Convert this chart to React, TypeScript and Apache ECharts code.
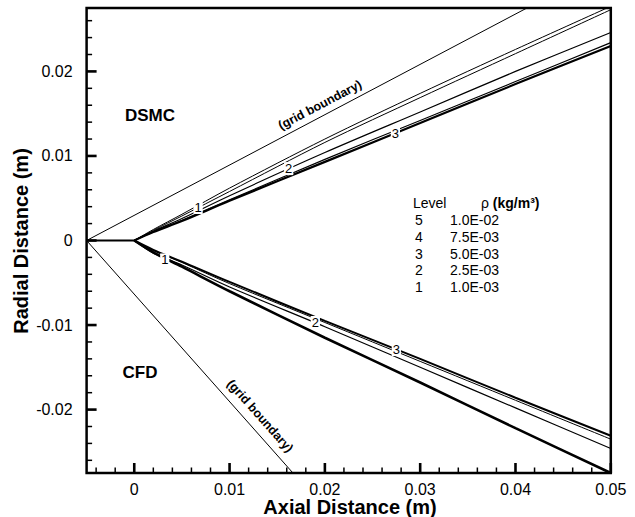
import React, { useEffect, useRef } from "react";
import * as echarts from "echarts";

// ---- data ----
const xStations = [0, 0.002, 0.005, 0.01, 0.02, 0.03, 0.04, 0.05];

// upper (DSMC) shock contours
const upperA = [0, 0.0013, 0.0031, 0.0062, 0.012, 0.0174, 0.0226, 0.0277];
const upperB = [0, 0.0012, 0.0029, 0.0058, 0.0116, 0.0169, 0.0221, 0.0273];
const upperC = [0, 0.0011, 0.0026, 0.0053, 0.0104, 0.0152, 0.02, 0.0246];
const upperD = [0, 0.001, 0.0024, 0.0048, 0.0096, 0.0142, 0.0188, 0.0234];
const upperE = [0, 0.001, 0.0023, 0.0047, 0.0093, 0.0139, 0.0185, 0.023];

// lower (CFD) shock contours
const lowerT1 = [0, -0.0011, -0.0025, -0.0049, -0.0095, -0.014, -0.0186, -0.0231];
const lowerT2 = [0, -0.0012, -0.0026, -0.0051, -0.0097, -0.0143, -0.0189, -0.0235];
const lowerM = [0, -0.0015, -0.0029, -0.0055, -0.0102, -0.015, -0.0198, -0.0246];
const lowerB = [0, -0.0014, -0.0031, -0.006, -0.0115, -0.0168, -0.0222, -0.0275];

// grid boundaries
const gridBoundaryUpper = [[-0.005, 0], [0.0412, 0.0275]];
const gridBoundaryLower = [[-0.005, 0], [0.01665, -0.0275]];
const stingLine = [[-0.005, 0], [0, 0]];

// contour labels [x, y, level]
const contourLabels: [number, number, string][] = [
  [0.0067, 0.0039, "1"],
  [0.0162, 0.0085, "2"],
  [0.0274, 0.0127, "3"],
  [0.0032, -0.0023, "1"],
  [0.019, -0.0097, "2"],
  [0.0275, -0.0129, "3"],
];

// legend
const legendLevels = ["5", "4", "3", "2", "1"];
const legendDensity = ["1.0E-02", "7.5E-03", "5.0E-03", "2.5E-03", "1.0E-03"];

// axes
const xMin = -0.005;
const xMax = 0.05;
const yMin = -0.0275;
const yMax = 0.0275;
const xMajorTicks = [0, 0.01, 0.02, 0.03, 0.04, 0.05];
const yMajorTicks = [-0.02, -0.01, 0, 0.01, 0.02];

function minorTicks(lo: number, hi: number, step: number, majors: number[]) {
  const out: number[] = [];
  const start = Math.ceil(lo / step - 1e-9);
  const end = Math.floor(hi / step + 1e-9);
  for (let i = start; i <= end; i++) {
    const v = +(i * step).toFixed(4);
    if (!majors.some((m) => Math.abs(m - v) < 1e-9)) out.push(v);
  }
  return out;
}
const xMinorTicks = minorTicks(xMin, xMax, 0.002, xMajorTicks);
const yMinorTicks = minorTicks(yMin, yMax, 0.002, yMajorTicks);

const FONT = "'Liberation Sans', Arial, Helvetica, sans-serif";

function pairs(ys: number[]) {
  return xStations.map((x, i) => [x, ys[i]]);
}

function lineSeries(data: number[][], width: number, smooth = 0.3) {
  return {
    type: "line",
    data,
    symbol: "none",
    smooth,
    silent: true,
    lineStyle: { color: "#000", width },
    xAxisIndex: 0,
    yAxisIndex: 0,
    z: 3,
  };
}

function axis(min: number, max: number, position: string, ticks: number[], margin: number) {
  return {
    type: "value",
    min,
    max,
    position,
    axisLine: { show: false, onZero: false },
    splitLine: { show: false },
    axisTick: { show: false },
    axisLabel: {
      customValues: ticks,
      formatter: (v: number) => String(+(+v).toFixed(3)),
      color: "#000",
      fontSize: 16,
      fontFamily: FONT,
      margin,
    },
  };
}

const textGraphics: any[] = [
  {
    type: "text",
    x: 150,
    y: 115,
    style: { text: "DSMC", fontSize: 17, fontWeight: "bold", fontFamily: FONT, fill: "#000", textAlign: "center", textVerticalAlign: "middle" },
  },
  {
    type: "text",
    x: 140,
    y: 372,
    style: { text: "CFD", fontSize: 17, fontWeight: "bold", fontFamily: FONT, fill: "#000", textAlign: "center", textVerticalAlign: "middle" },
  },
  {
    type: "text",
    x: 320,
    y: 105,
    rotation: 0.485,
    style: { text: "(grid boundary)", fontSize: 12.5, fontWeight: "bold", fontFamily: FONT, fill: "#000", textAlign: "center", textVerticalAlign: "middle" },
  },
  {
    type: "text",
    x: 260,
    y: 416,
    rotation: -0.845,
    style: { text: "(grid boundary)", fontSize: 12.5, fontWeight: "bold", fontFamily: FONT, fill: "#000", textAlign: "center", textVerticalAlign: "middle" },
  },
  {
    type: "text",
    x: 350,
    y: 507,
    style: { text: "Axial Distance (m)", fontSize: 20, fontWeight: "bold", fontFamily: FONT, fill: "#000", textAlign: "center", textVerticalAlign: "middle" },
  },
  {
    type: "text",
    x: 21,
    y: 241,
    rotation: Math.PI / 2,
    style: { text: "Radial Distance (m)", fontSize: 20, fontWeight: "bold", fontFamily: FONT, fill: "#000", textAlign: "center", textVerticalAlign: "middle" },
  },
  {
    type: "text",
    x: 413,
    y: 203,
    style: { text: "Level", fontSize: 14, fontFamily: FONT, fill: "#000", textAlign: "left", textVerticalAlign: "middle" },
  },
  {
    type: "text",
    x: 481,
    y: 203,
    style: {
      text: "{a|ρ }{b|(kg/m³)}",
      fontFamily: FONT,
      fill: "#000",
      textAlign: "left",
      textVerticalAlign: "middle",
      rich: {
        a: { fontSize: 14, fontFamily: FONT, fill: "#000" },
        b: { fontSize: 14, fontWeight: "bold", fontFamily: FONT, fill: "#000" },
      },
    },
  },
  ...legendLevels.map((lv, i) => ({
    type: "text",
    x: 415,
    y: 220 + i * 16.8,
    style: { text: lv, fontSize: 14, fontFamily: FONT, fill: "#000", textAlign: "left", textVerticalAlign: "middle" },
  })),
  ...legendDensity.map((d, i) => ({
    type: "text",
    x: 450,
    y: 220 + i * 16.8,
    style: { text: d, fontSize: 14, fontFamily: FONT, fill: "#000", textAlign: "left", textVerticalAlign: "middle" },
  })),
];

export default function App() {
  const ref = useRef<HTMLDivElement>(null);
  useEffect(() => {
    if (!ref.current) return;
    const chart = echarts.init(ref.current, undefined, { renderer: "svg" });
    const option: any = {
      animation: false,
      backgroundColor: "#fff",
      grid: {
        left: 86.6,
        right: 24.2,
        top: 8,
        bottom: 44,
        show: false,
      },
      xAxis: axis(xMin, xMax, "bottom", xMajorTicks, 8),
      yAxis: axis(yMin, yMax, "left", yMajorTicks, 14),
      series: [
        lineSeries(gridBoundaryUpper, 1, 0),
        lineSeries(gridBoundaryLower, 1, 0),
        lineSeries(stingLine, 2, 0),
        lineSeries(pairs(upperA), 1),
        lineSeries(pairs(upperB), 1),
        lineSeries(pairs(upperC), 1.2),
        lineSeries(pairs(upperD), 1.2),
        lineSeries(pairs(upperE), 2.2),
        lineSeries(pairs(lowerT1), 2),
        lineSeries(pairs(lowerT2), 1),
        lineSeries(pairs(lowerM), 1.2),
        lineSeries(pairs(lowerB), 2.6),
        {
          type: "custom",
          silent: true,
          z: 7,
          data: contourLabels.map((d) => [d[0], d[1], d[2]]),
          renderItem: (_p: any, api: any) => {
            const p = api.coord([api.value(0), api.value(1)]);
            return {
              type: "text",
              x: p[0],
              y: p[1],
              style: {
                text: String(api.value(2)),
                fill: "#000",
                fontSize: 13,
                fontFamily: FONT,
                align: "center",
                verticalAlign: "middle",
                backgroundColor: "#fff",
                padding: [0, 1],
              },
            };
          },
        },
      ],
      graphic: textGraphics,
    };
    chart.setOption(option);

    // frame and tick marks, placed through the chart's own axis scales
    const px = (x: number, y: number) => chart.convertToPixel({ gridIndex: 0 }, [x, y]) as number[];
    const bl = px(xMin, yMin);
    const tr = px(xMax, yMax);
    const marks: any[] = [];
    const tick = (x1: number, y1: number, x2: number, y2: number, w: number) =>
      marks.push({
        type: "line",
        z: 100,
        silent: true,
        shape: { x1, y1, x2, y2 },
        style: { stroke: "#000", lineWidth: w },
      });
    xMajorTicks.forEach((v) => {
      const p = px(v, yMin);
      tick(p[0], bl[1], p[0], bl[1] - 10, 2.6);
    });
    xMinorTicks.forEach((v) => {
      const p = px(v, yMin);
      tick(p[0], bl[1], p[0], bl[1] - 5.5, 1.5);
    });
    yMajorTicks.forEach((v) => {
      const p = px(xMin, v);
      tick(bl[0], p[1], bl[0] + 10, p[1], 2.6);
    });
    yMinorTicks.forEach((v) => {
      const p = px(xMin, v);
      tick(bl[0], p[1], bl[0] + 5.5, p[1], 1.5);
    });
    marks.push({
      type: "rect",
      z: 101,
      silent: true,
      shape: { x: bl[0], y: tr[1], width: tr[0] - bl[0], height: bl[1] - tr[1] },
      style: { fill: "none", stroke: "#000", lineWidth: 2.5 },
    });
    chart.setOption({ graphic: [...textGraphics, ...marks] });
    return () => chart.dispose();
  }, []);
  return (
    <div
      ref={ref}
      style={{ position: "fixed", left: 0, top: 0, width: 635, height: 517, background: "#fff" }}
    />
  );
}
